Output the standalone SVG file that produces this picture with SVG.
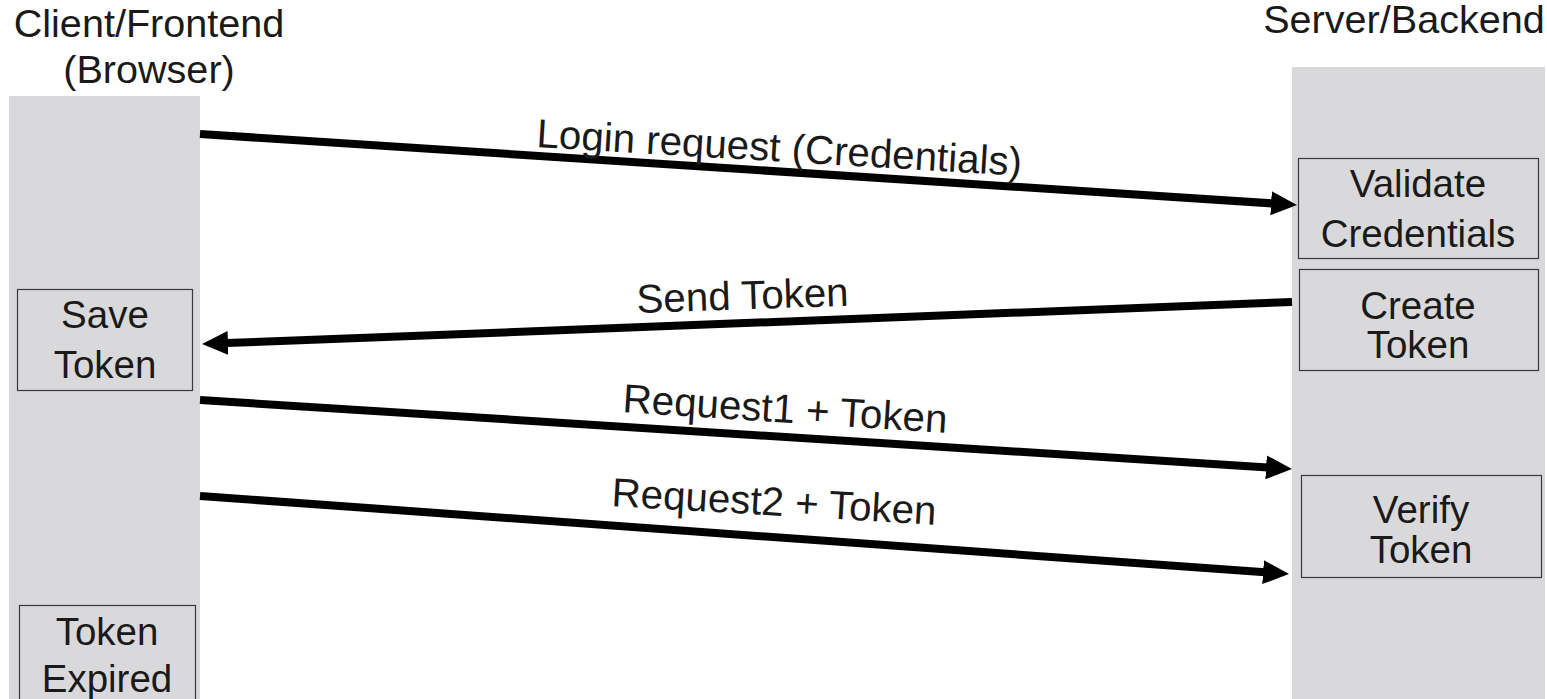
<svg xmlns="http://www.w3.org/2000/svg" width="1547" height="699" viewBox="0 0 1547 699">
<style>
text{font-family:"Liberation Sans",Arial,sans-serif;font-size:38.5px;fill:#1a1a1a}
.c{text-anchor:middle}
.t{font-size:39.6px}
.l{font-size:40.3px}
.lane{fill:#d9d9db}
.box{fill:#d9d9db;stroke:#3a3a3a;stroke-width:1.2}
.arr{stroke:#000;stroke-width:8;fill:none;marker-end:url(#ah)}
</style>
<defs>
<marker id="ah" markerUnits="userSpaceOnUse" markerWidth="28" markerHeight="26" refX="2" refY="12" orient="auto">
<path d="M0,0 L26,12 L0,24 z" fill="#000"/>
</marker>
</defs>
<rect width="1547" height="699" fill="#fff"/>
<g id="client">
<text class="c t" x="149" y="37">Client/Frontend</text>
<text class="c t" x="149" y="83">(Browser)</text>
<rect class="lane" x="9" y="96" width="191" height="603"/>
</g>
<g id="server">
<text class="c t" x="1404" y="33">Server/Backend</text>
<rect class="lane" x="1292" y="67" width="253" height="632"/>
</g>
<g id="validate">
<rect class="box" x="1298.5" y="158.5" width="240" height="100"/>
<text class="c" x="1418" y="197">Validate</text>
<text class="c" x="1418" y="247">Credentials</text>
</g>
<g id="create">
<rect class="box" x="1299.5" y="269.5" width="239" height="101"/>
<text class="c" x="1418" y="319">Create</text>
<text class="c" x="1418" y="358">Token</text>
</g>
<g id="verify">
<rect class="box" x="1301.5" y="475.5" width="240" height="102"/>
<text class="c" x="1421" y="523">Verify</text>
<text class="c" x="1421" y="563">Token</text>
</g>
<g id="save">
<rect class="box" x="17.5" y="289.5" width="175" height="101"/>
<text class="c" x="105" y="328">Save</text>
<text class="c" x="105" y="378">Token</text>
</g>
<g id="expired">
<rect class="box" x="19.5" y="605.5" width="176" height="100"/>
<text class="c" x="107" y="645">Token</text>
<text class="c" x="107" y="692">Expired</text>
</g>
<g id="connectors">
<line class="arr" x1="200" y1="134" x2="1273.05" y2="203.45"/>
<line class="arr" x1="1292" y1="302" x2="225.98" y2="343.08"/>
<line class="arr" x1="200" y1="400" x2="1268.05" y2="467.49"/>
<line class="arr" x1="200" y1="496" x2="1265.06" y2="572.29"/>
<text class="l" x="536" y="147" transform="rotate(3.4 536 147)">Login request (Credentials)</text>
<text class="l" x="637" y="313" transform="rotate(-2 637 313)">Send Token</text>
<text class="l" x="622" y="412" transform="rotate(3.7 622 412)">Request1 + Token</text>
<text class="l" x="611" y="506" transform="rotate(3.3 611 506)">Request2 + Token</text>
</g>
</svg>
